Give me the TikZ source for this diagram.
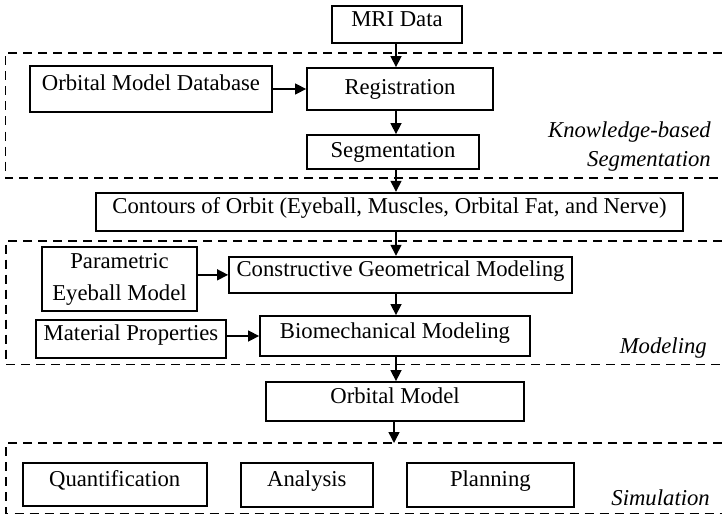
\documentclass[tikz,border=0pt]{standalone}
\usepackage{fontspec}
\setmainfont{Liberation Serif}
\usetikzlibrary{arrows.meta}
\begin{document}
\begin{tikzpicture}[x=1pt,y=-1pt,
  boxbase/.style={draw, line width=1.8pt, inner sep=0pt, font=\fontsize{22.7}{27}\selectfont},
  box/.style={boxbase, text height=12pt, text depth=8pt},
  lowbox/.style={boxbase, text height=14pt, text depth=3pt},
  arr/.style={line width=1.5pt, -{Triangle[length=11pt,width=11pt]}},
  region/.style={line width=1.6pt, dash pattern=on 9pt off 6pt},
  tag/.style={font=\fontsize{22.7}{27}\selectfont\itshape, anchor=base east, inner sep=0pt}]
\useasboundingbox (0,0) rectangle (722,516);
% regions
\draw[region] (722,53) -- (5.5,53) -- (5.5,178) -- (722,178);
\draw[region] (722,240.7) -- (6,240.7) -- (6,364.5) -- (722,364.5);
\draw[region] (722,443) -- (6,443) -- (6,513.5) -- (722,513.5);
% boxes
\node[box, minimum width=130pt, minimum height=37pt] (mri) at (397,24.5) {MRI Data};
\node[box, minimum width=242pt, minimum height=46pt] (odb) at (151,89) {Orbital Model Database};
\node[lowbox, minimum width=186pt, minimum height=42pt] (reg) at (400,89) {Registration};
\node[lowbox, minimum width=172pt, minimum height=34pt] (seg) at (393,152) {Segmentation};
\node[box, minimum width=587pt, minimum height=38pt] (cont) at (389.5,211.7) {Contours of Orbit (Eyeball, Muscles, Orbital Fat, and Nerve)};
\node[boxbase, align=center, font=\fontsize{22.7}{32}\selectfont, minimum width=155pt, minimum height=64pt] (param) at (119.5,279) {Parametric\\Eyeball Model};
\node[box, minimum width=343pt, minimum height=36.3pt] (cgm) at (400.5,274.85) {Constructive Geometrical Modeling};
\node[box, minimum width=190pt, minimum height=37.7pt] (mat) at (131,338.85) {Material Properties};
\node[box, minimum width=270pt, minimum height=40pt] (bio) at (395,336) {Biomechanical Modeling};
\node[box, minimum width=258pt, minimum height=39pt] (om) at (395,401.5) {Orbital Model};
\node[box, minimum width=184pt, minimum height=43.5pt] (quant) at (114.7,484.5) {Quantification};
\node[box, minimum width=131.7pt, minimum height=44.3pt] (ana) at (306.85,484.85) {Analysis};
\node[box, minimum width=167.3pt, minimum height=44.3pt] (plan) at (490.35,484.85) {Planning};
% labels
\node[tag] (kb1) at (711,137) {Knowledge-based};
\node[tag] (kb2) at (711,166.5) {Segmentation};
\node[tag] (mod) at (707,353) {Modeling};
\node[tag] (sim) at (710,505) {Simulation};
% connectors
\coordinate (col) at (396,0);
\coordinate (simtop) at (394,443);
\draw[arr] (mri.south -| col) -- (reg.north -| col);
\draw[arr] (odb.east) -- (reg.west |- odb.east);
\draw[arr] (reg.south -| col) -- (seg.north -| col);
\draw[arr] (seg.south -| col) -- (cont.north -| col);
\draw[arr] (cont.south -| col) -- (cgm.north -| col);
\draw[arr] (param.east |- cgm.west) -- (cgm.west);
\draw[arr] (cgm.south -| col) -- (bio.north -| col);
\draw[arr] (mat.east |- bio.west) -- (bio.west);
\draw[arr] (bio.south -| col) -- (om.north -| col);
\draw[arr] (om.south -| simtop) -- (simtop);
\end{tikzpicture}
\end{document}
